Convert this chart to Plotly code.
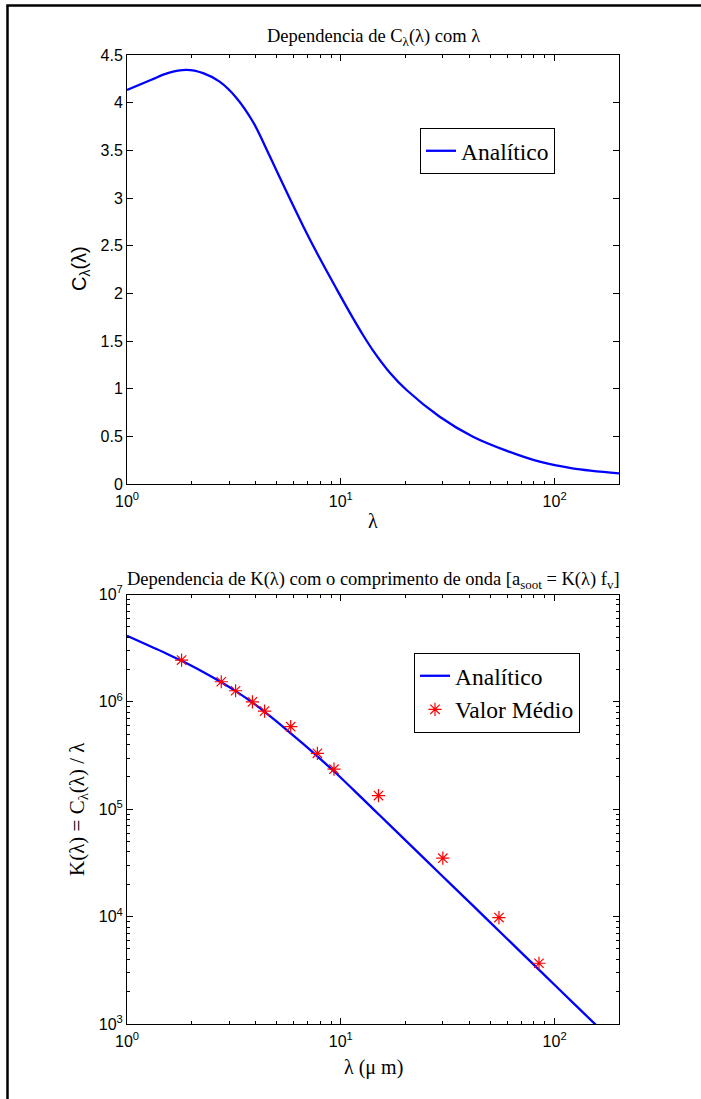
import plotly.graph_objects as go

# --- data ---
lam = [1.0, 1.3, 1.55, 1.9, 2.27, 2.71, 3.25, 3.88, 4.65, 5.56, 6.65, 7.96,
       9.53, 11.4, 12.7, 14.1, 17.0, 20.3, 29.0, 41.5, 59.4, 85.1, 121, 200]
C_lam = [4.134, 4.24, 4.31, 4.344, 4.31, 4.22, 4.05, 3.80, 3.44, 3.07, 2.71, 2.37,
         2.05, 1.74, 1.563, 1.405, 1.165, 0.986, 0.706, 0.496, 0.35, 0.234, 0.165, 0.112]
K_lam = [4.134e6, 3.262e6, 2.781e6, 2.286e6, 1.899e6, 1.557e6, 1.246e6, 9.794e5,
         7.398e5, 5.522e5, 4.075e5, 2.977e5, 2.151e5, 1.53e5, 1.242e5, 1.015e5,
         7.08e4, 5.02e4, 2.52e4, 1.264e4, 6.32e3, 3.16e3, 1.60e3, 6.07e2]
lam_med = [1.80, 2.76, 3.22, 3.86, 4.40, 5.83, 7.77, 9.29, 15.0, 30.0, 54.9, 84.5]
K_med = [2.45e6, 1.54e6, 1.27e6, 1.0e6, 8.2e5, 5.87e5, 3.32e5, 2.36e5, 1.34e5,
         3.50e4, 9.8e3, 3.68e3]

x_tickvals = [1, 10, 100]
x_ticktext = ["10<sup>0</sup>", "10<sup>1</sup>", "10<sup>2</sup>"]
y_tickvals_top = [0, 0.5, 1, 1.5, 2, 2.5, 3, 3.5, 4, 4.5]
y_ticktext_top = ["0", "0.5", "1", "1.5", "2", "2.5", "3", "3.5", "4", "4.5"]
y_tickvals_bot = [1e3, 1e4, 1e5, 1e6, 1e7]
y_ticktext_bot = ["10<sup>3</sup>", "10<sup>4</sup>", "10<sup>5</sup>", "10<sup>6</sup>", "10<sup>7</sup>"]

x_minor = [d * m for m in (1, 10, 100) for d in range(2, 10) if d * m < 200]
y_minor = [d * m for m in (1e3, 1e4, 1e5, 1e6) for d in range(2, 10)]

BLUE = "rgb(0,0,255)"
RED = "rgb(255,0,0)"
SERIF = "Liberation Serif, Times New Roman, serif"
SANS = "Liberation Sans, Arial, Helvetica, sans-serif"

W, H = 701, 1099
L, R, T, B = 127, 82, 55, 75
PH = H - T - B  # 969
PW = W - L - R  # 492


def py(pix):
    return (H - B - pix) / PH


def px(pix):
    return (pix - L) / PW


fig = go.Figure()

fig.add_trace(go.Scatter(x=lam, y=C_lam, mode="lines", name="Analítico",
                         line=dict(color=BLUE, width=2.3, shape="spline", smoothing=0.9),
                         xaxis="x", yaxis="y", legend="legend"))
fig.add_trace(go.Scatter(x=lam, y=K_lam, mode="lines", name="Analítico",
                         line=dict(color=BLUE, width=2.3, shape="spline", smoothing=0.9),
                         xaxis="x2", yaxis="y2", legend="legend2"))
fig.add_trace(go.Scatter(x=lam_med, y=K_med, mode="markers", name="Valor Médio",
                         marker=dict(symbol="asterisk-open", size=11,
                                     color=RED, line=dict(color=RED, width=1.2)),
                         xaxis="x2", yaxis="y2", legend="legend2"))

axis_common = dict(showline=True, linecolor="black", linewidth=1, mirror="allticks",
                   ticks="inside", ticklen=6, tickcolor="black", tickwidth=1,
                   showgrid=False, zeroline=False,
                   tickfont=dict(family=SANS, size=16, color="black"))

top_dom = [py(484), 1.0]
bot_dom = [0.0, py(594.5)]

fig.update_layout(
    width=W, height=H,
    margin=dict(l=L, r=R, t=T, b=B),
    paper_bgcolor="white", plot_bgcolor="white",
    xaxis=dict(type="log", range=[0, 2.30103], domain=[0, 1], anchor="y",
               tickmode="array", tickvals=x_tickvals, ticktext=x_ticktext,
               ticklabelstandoff=3,
               minor=dict(tickmode="array", tickvals=x_minor, ticks="inside",
                          ticklen=3, tickcolor="black", showgrid=False),
               **axis_common),
    yaxis=dict(type="linear", range=[0, 4.5], domain=top_dom, anchor="x",
               tickmode="array", tickvals=y_tickvals_top, ticktext=y_ticktext_top,
               **axis_common),
    xaxis2=dict(type="log", range=[0, 2.30103], domain=[0, 1], anchor="y2",
                tickmode="array", tickvals=x_tickvals, ticktext=x_ticktext,
                ticklabelstandoff=3,
                minor=dict(tickmode="array", tickvals=x_minor, ticks="inside",
                           ticklen=3, tickcolor="black", showgrid=False),
                **axis_common),
    yaxis2=dict(type="log", range=[3, 7], domain=bot_dom, anchor="x2",
                tickmode="array", tickvals=y_tickvals_bot, ticktext=y_ticktext_bot,
                minor=dict(tickmode="array", tickvals=y_minor, ticks="inside",
                           ticklen=3, tickcolor="black", showgrid=False),
                **axis_common),
    legend=dict(x=px(420), y=py(128), xanchor="left", yanchor="top",
                bgcolor="white", bordercolor="black", borderwidth=1,
                font=dict(family=SERIF, size=23.5, color="black")),
    legend2=dict(x=px(414), y=py(653), xanchor="left", yanchor="top",
                 bgcolor="white", bordercolor="black", borderwidth=1,
                 font=dict(family=SERIF, size=23.5, color="black"),
                 tracegroupgap=0),
    showlegend=True,
)

annotations = [
    dict(text="Dependencia de C<sub>λ</sub>(λ) com λ", x=0.5, y=py(38),
         xref="paper", yref="paper", xanchor="center", yanchor="middle",
         showarrow=False, font=dict(family=SERIF, size=18.5, color="black")),
    dict(text="Dependencia de K(λ) com o comprimento de onda [a<sub>soot</sub> = K(λ) f<sub>v</sub>]",
         x=0.5, y=py(580), xref="paper", yref="paper", xanchor="center", yanchor="middle",
         showarrow=False, font=dict(family=SERIF, size=18.5, color="black")),
    dict(text="λ", x=0.5, y=py(521), xref="paper", yref="paper",
         xanchor="center", yanchor="middle", showarrow=False,
         font=dict(family=SERIF, size=20, color="black")),
    dict(text="λ (μ m)", x=0.5, y=py(1067), xref="paper", yref="paper",
         xanchor="center", yanchor="middle", showarrow=False,
         font=dict(family=SERIF, size=20, color="black")),
    dict(text="C<sub>λ</sub>(λ)", x=px(80), y=py(269), xref="paper", yref="paper",
         xanchor="center", yanchor="middle", textangle=-90, showarrow=False,
         font=dict(family=SANS, size=20, color="black")),
    dict(text="K(λ) = C<sub>λ</sub>(λ) / λ", x=px(78), y=py(809), xref="paper", yref="paper",
         xanchor="center", yanchor="middle", textangle=-90, showarrow=False,
         font=dict(family=SERIF, size=21, color="black")),
]
fig.update_layout(annotations=annotations)

# outer frame (only left and top edges are visible in the reference)
fig.add_shape(type="line", xref="paper", yref="paper",
              x0=px(7.5), x1=px(7.5), y0=py(1099), y1=py(5.5),
              line=dict(color="black", width=2.5), layer="above")
fig.add_shape(type="line", xref="paper", yref="paper",
              x0=px(6.3), x1=px(701), y0=py(5.5), y1=py(5.5),
              line=dict(color="black", width=2.5), layer="above")

fig.write_html(
    "out.html",
    post_script=("document.body.style.margin='0';"
                 "document.body.style.overflow='hidden';"
                 "document.documentElement.style.overflow='hidden';"),
)
